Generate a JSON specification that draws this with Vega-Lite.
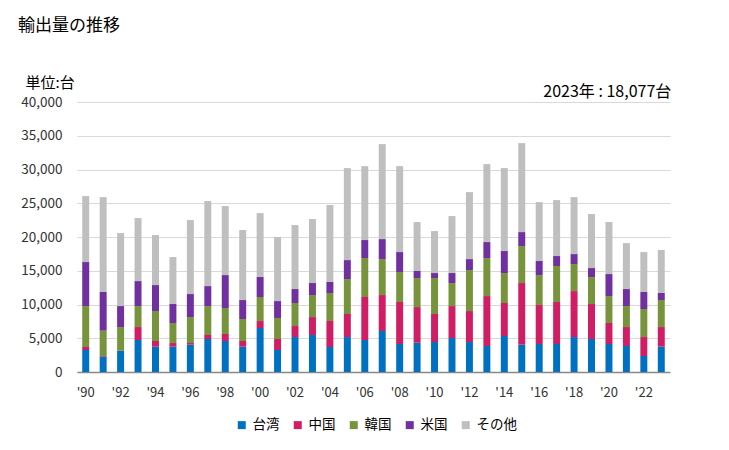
{
"$schema": "https://vega.github.io/schema/vega-lite/v6.json",
"width": 593, "height": 270,
"autosize": {"type": "none"},
"padding": {"left": 77, "top": 102, "right": 59, "bottom": 78},
"background": "white",
"title": {"text": "輸出量の推移", "anchor": "start", "frame": "group", "dx": -59, "offset": 40, "fontSize": 17, "font": "Noto Sans CJK JP", "fontWeight": "normal", "color": "#000000"},
"config": {"view": {"stroke": null}, "font": "Noto Sans CJK JP"},
"datasets": {
"d": [
{"年":1990,"国":"台湾","台数":3260,"k":1},{"年":1990,"国":"中国","台数":440,"k":2},{"年":1990,"国":"韓国","台数":6070,"k":3},{"年":1990,"国":"米国","台数":6520,"k":4},{"年":1990,"国":"その他","台数":9770,"k":5},
{"年":1991,"国":"台湾","台数":2270,"k":1},{"年":1991,"国":"中国","台数":100,"k":2},{"年":1991,"国":"韓国","台数":3750,"k":3},{"年":1991,"国":"米国","台数":5730,"k":4},{"年":1991,"国":"その他","台数":14060,"k":5},
{"年":1992,"国":"台湾","台数":3110,"k":1},{"年":1992,"国":"中国","台数":30,"k":2},{"年":1992,"国":"韓国","台数":3520,"k":3},{"年":1992,"国":"米国","台数":3110,"k":4},{"年":1992,"国":"その他","台数":10810,"k":5},
{"年":1993,"国":"台湾","台数":4740,"k":1},{"年":1993,"国":"中国","台数":1920,"k":2},{"年":1993,"国":"韓国","台数":3110,"k":3},{"年":1993,"国":"米国","台数":3700,"k":4},{"年":1993,"国":"その他","台数":9330,"k":5},
{"年":1994,"国":"台湾","台数":3750,"k":1},{"年":1994,"国":"中国","台数":840,"k":2},{"年":1994,"国":"韓国","台数":4440,"k":3},{"年":1994,"国":"米国","台数":3850,"k":4},{"年":1994,"国":"その他","台数":7410,"k":5},
{"年":1995,"国":"台湾","台数":3750,"k":1},{"年":1995,"国":"中国","台数":540,"k":2},{"年":1995,"国":"韓国","台数":2970,"k":3},{"年":1995,"国":"米国","台数":2810,"k":4},{"年":1995,"国":"その他","台数":6960,"k":5},
{"年":1996,"国":"台湾","台数":4050,"k":1},{"年":1996,"国":"中国","台数":240,"k":2},{"年":1996,"国":"韓国","台数":3850,"k":3},{"年":1996,"国":"米国","台数":3410,"k":4},{"年":1996,"国":"その他","台数":10960,"k":5},
{"年":1997,"国":"台湾","台数":4890,"k":1},{"年":1997,"国":"中国","台数":590,"k":2},{"年":1997,"国":"韓国","台数":4290,"k":3},{"年":1997,"国":"米国","台数":2960,"k":4},{"年":1997,"国":"その他","台数":12590,"k":5},
{"年":1998,"国":"台湾","台数":4590,"k":1},{"年":1998,"国":"中国","台数":1040,"k":2},{"年":1998,"国":"韓国","台数":3850,"k":3},{"年":1998,"国":"米国","台数":4880,"k":4},{"年":1998,"国":"その他","台数":10220,"k":5},
{"年":1999,"国":"台湾","台数":3750,"k":1},{"年":1999,"国":"中国","台数":840,"k":2},{"年":1999,"国":"韓国","台数":3260,"k":3},{"年":1999,"国":"米国","台数":2810,"k":4},{"年":1999,"国":"その他","台数":10370,"k":5},
{"年":2000,"国":"台湾","台数":6520,"k":1},{"年":2000,"国":"中国","台数":1030,"k":2},{"年":2000,"国":"韓国","台数":3560,"k":3},{"年":2000,"国":"米国","台数":2960,"k":4},{"年":2000,"国":"その他","台数":9470,"k":5},
{"年":2001,"国":"台湾","台数":3260,"k":1},{"年":2001,"国":"中国","台数":1630,"k":2},{"年":2001,"国":"韓国","台数":3110,"k":3},{"年":2001,"国":"米国","台数":2510,"k":4},{"年":2001,"国":"その他","台数":9480,"k":5},
{"年":2002,"国":"台湾","台数":5180,"k":1},{"年":2002,"国":"中国","台数":1630,"k":2},{"年":2002,"国":"韓国","台数":3410,"k":3},{"年":2002,"国":"米国","台数":2070,"k":4},{"年":2002,"国":"その他","台数":9480,"k":5},
{"年":2003,"国":"台湾","台数":5480,"k":1},{"年":2003,"国":"中国","台数":2660,"k":2},{"年":2003,"国":"韓国","台数":3260,"k":3},{"年":2003,"国":"米国","台数":1780,"k":4},{"年":2003,"国":"その他","台数":9480,"k":5},
{"年":2004,"国":"台湾","台数":3700,"k":1},{"年":2004,"国":"中国","台数":3850,"k":2},{"年":2004,"国":"韓国","台数":4150,"k":3},{"年":2004,"国":"米国","台数":1630,"k":4},{"年":2004,"国":"その他","台数":11400,"k":5},
{"年":2005,"国":"台湾","台数":5180,"k":1},{"年":2005,"国":"中国","台数":3410,"k":2},{"年":2005,"国":"韓国","台数":5180,"k":3},{"年":2005,"国":"米国","台数":2810,"k":4},{"年":2005,"国":"その他","台数":13630,"k":5},
{"年":2006,"国":"台湾","台数":4740,"k":1},{"年":2006,"国":"中国","台数":6370,"k":2},{"年":2006,"国":"韓国","台数":5770,"k":3},{"年":2006,"国":"米国","台数":2670,"k":4},{"年":2006,"国":"その他","台数":10950,"k":5},
{"年":2007,"国":"台湾","台数":6070,"k":1},{"年":2007,"国":"中国","台数":5330,"k":2},{"年":2007,"国":"韓国","台数":5330,"k":3},{"年":2007,"国":"米国","台数":2960,"k":4},{"年":2007,"国":"その他","台数":14070,"k":5},
{"年":2008,"国":"台湾","台数":4150,"k":1},{"年":2008,"国":"中国","台数":6220,"k":2},{"年":2008,"国":"韓国","台数":4440,"k":3},{"年":2008,"国":"米国","台数":2960,"k":4},{"年":2008,"国":"その他","台数":12730,"k":5},
{"年":2009,"国":"台湾","台数":4340,"k":1},{"年":2009,"国":"中国","台数":5280,"k":2},{"年":2009,"国":"韓国","台数":4300,"k":3},{"年":2009,"国":"米国","台数":1040,"k":4},{"年":2009,"国":"その他","台数":7250,"k":5},
{"年":2010,"国":"台湾","台数":4440,"k":1},{"年":2010,"国":"中国","台数":4150,"k":2},{"年":2010,"国":"韓国","台数":5330,"k":3},{"年":2010,"国":"米国","台数":740,"k":4},{"年":2010,"国":"その他","台数":6220,"k":5},
{"年":2011,"国":"台湾","台数":5030,"k":1},{"年":2011,"国":"中国","台数":4740,"k":2},{"年":2011,"国":"韓国","台数":3410,"k":3},{"年":2011,"国":"米国","台数":1480,"k":4},{"年":2011,"国":"その他","台数":8440,"k":5},
{"年":2012,"国":"台湾","台数":4440,"k":1},{"年":2012,"国":"中国","台数":4590,"k":2},{"年":2012,"国":"韓国","台数":6070,"k":3},{"年":2012,"国":"米国","台数":1630,"k":4},{"年":2012,"国":"その他","台数":9920,"k":5},
{"年":2013,"国":"台湾","台数":3850,"k":1},{"年":2013,"国":"中国","台数":7400,"k":2},{"年":2013,"国":"韓国","台数":5630,"k":3},{"年":2013,"国":"米国","台数":2370,"k":4},{"年":2013,"国":"その他","台数":11550,"k":5},
{"年":2014,"国":"台湾","台数":5330,"k":1},{"年":2014,"国":"中国","台数":4890,"k":2},{"年":2014,"国":"韓国","台数":4440,"k":3},{"年":2014,"国":"米国","台数":3260,"k":4},{"年":2014,"国":"その他","台数":12290,"k":5},
{"年":2015,"国":"台湾","台数":4050,"k":1},{"年":2015,"国":"中国","台数":9130,"k":2},{"年":2015,"国":"韓国","台数":5480,"k":3},{"年":2015,"国":"米国","台数":2070,"k":4},{"年":2015,"国":"その他","台数":13180,"k":5},
{"年":2016,"国":"台湾","台数":4150,"k":1},{"年":2016,"国":"中国","台数":5770,"k":2},{"年":2016,"国":"韓国","台数":4440,"k":3},{"年":2016,"国":"米国","台数":2080,"k":4},{"年":2016,"国":"その他","台数":8730,"k":5},
{"年":2017,"国":"台湾","台数":4150,"k":1},{"年":2017,"国":"中国","台数":6220,"k":2},{"年":2017,"国":"韓国","台数":5330,"k":3},{"年":2017,"国":"米国","台数":1480,"k":4},{"年":2017,"国":"その他","台数":8290,"k":5},
{"年":2018,"国":"台湾","台数":5180,"k":1},{"年":2018,"国":"中国","台数":6810,"k":2},{"年":2018,"国":"韓国","台数":4000,"k":3},{"年":2018,"国":"米国","台数":1480,"k":4},{"年":2018,"国":"その他","台数":8440,"k":5},
{"年":2019,"国":"台湾","台数":4890,"k":1},{"年":2019,"国":"中国","台数":5180,"k":2},{"年":2019,"国":"韓国","台数":4000,"k":3},{"年":2019,"国":"米国","台数":1330,"k":4},{"年":2019,"国":"その他","台数":8000,"k":5},
{"年":2020,"国":"台湾","台数":4150,"k":1},{"年":2020,"国":"中国","台数":3110,"k":2},{"年":2020,"国":"韓国","台数":3990,"k":3},{"年":2020,"国":"米国","台数":3260,"k":4},{"年":2020,"国":"その他","台数":7700,"k":5},
{"年":2021,"国":"台湾","台数":3850,"k":1},{"年":2021,"国":"中国","台数":2810,"k":2},{"年":2021,"国":"韓国","台数":3110,"k":3},{"年":2021,"国":"米国","台数":2520,"k":4},{"年":2021,"国":"その他","台数":6810,"k":5},
{"年":2022,"国":"台湾","台数":2370,"k":1},{"年":2022,"国":"中国","台数":2810,"k":2},{"年":2022,"国":"韓国","台数":4150,"k":3},{"年":2022,"国":"米国","台数":2520,"k":4},{"年":2022,"国":"その他","台数":5920,"k":5},
{"年":2023,"国":"台湾","台数":3750,"k":1},{"年":2023,"国":"中国","台数":2910,"k":2},{"年":2023,"国":"韓国","台数":4000,"k":3},{"年":2023,"国":"米国","台数":1040,"k":4},{"年":2023,"国":"その他","台数":6377,"k":5}
],
"note": [{"年":2023,"t":"2023年 : 18,077台"}]
},
"layer": [
{
"data": {"name": "d"},
"mark": {"type": "bar"},
"encoding": {
"x": {"field": "年", "type": "ordinal",
"scale": {"paddingInner": 0.6, "paddingOuter": 0.3},
"axis": {"title": null, "labelAngle": 0, "ticks": false, "domainColor": "#898989", "domainWidth": 1.5,
"labelExpr": "datum.value % 2 == 0 ? \"'\" + substring(toString(datum.value), 2) : ''",
"labelFontSize": 13, "labelColor": "#333333", "labelPadding": 14, "labelFont": "Noto Sans CJK JP"}},
"y": {"field": "台数", "type": "quantitative", "stack": "zero",
"scale": {"domain": [0, 40000], "nice": false},
"axis": {"values": [0,5000,10000,15000,20000,25000,30000,35000,40000], "tickCount": 12, "format": ",d", "domain": false, "ticks": false,
"gridColor": "#d9d9d9", "gridWidth": 1.2, "labelFontSize": 13.5, "labelColor": "#333333", "labelPadding": 15, "labelFont": "Noto Sans CJK JP", "labelOverlap": false,
"title": "単位:台", "titleAngle": 0, "titleAlign": "left", "titleBaseline": "alphabetic", "titleX": -52, "titleY": -15,
"titleFontSize": 15, "titleFontWeight": "normal", "titleColor": "#000000", "titleFont": "Noto Sans CJK JP"}},
"color": {"field": "国", "type": "nominal",
"scale": {"domain": ["台湾","中国","韓国","米国","その他"], "range": ["#0070C0","#CF1E64","#77933C","#7030A0","#BFBFBF"]},
"legend": {"orient": "none", "legendX": 158, "legendY": 316, "direction": "horizontal", "title": null, "symbolType": "square", "symbolSize": 64,
"symbolStrokeWidth": 0, "labelFontSize": 13.5, "labelColor": "#000000", "labelFont": "Noto Sans CJK JP", "columnPadding": 11}},
"order": {"field": "k", "type": "quantitative"}
}
},
{
"data": {"name": "note"},
"mark": {"type": "text", "align": "right", "baseline": "alphabetic", "dx": 10, "dy": -5, "fontSize": 16, "font": "Noto Sans CJK JP", "color": "#000000"},
"encoding": {
"x": {"field": "年", "type": "ordinal"},
"y": {"datum": 40000, "type": "quantitative"},
"text": {"field": "t"}
}
}
]
}
